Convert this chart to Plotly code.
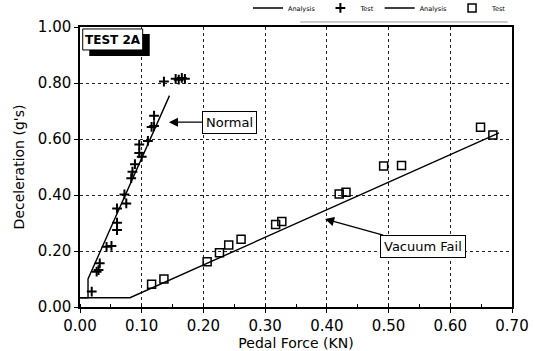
import plotly.graph_objects as go

# Normal (booster working) test data
normal_test_x = [0.019, 0.027, 0.030, 0.032, 0.043, 0.051, 0.060, 0.060, 0.060, 0.075, 0.072,
                 0.083, 0.085, 0.089, 0.100, 0.096, 0.096, 0.110, 0.116, 0.120, 0.120,
                 0.136, 0.155, 0.160, 0.165, 0.170]
normal_test_y = [0.055, 0.126, 0.132, 0.156, 0.215, 0.218, 0.275, 0.301, 0.352, 0.370, 0.402,
                 0.460, 0.483, 0.510, 0.537, 0.550, 0.580, 0.593, 0.643, 0.646, 0.683,
                 0.805, 0.815, 0.812, 0.818, 0.815]
normal_analysis_x = [0.0, 0.013, 0.013, 0.145]
normal_analysis_y = [0.033, 0.033, 0.100, 0.755]

# Vacuum fail test data
vacuum_test_x = [0.116, 0.136, 0.206, 0.226, 0.241, 0.261, 0.317, 0.327, 0.420, 0.431,
                 0.492, 0.521, 0.649, 0.669]
vacuum_test_y = [0.081, 0.100, 0.162, 0.194, 0.221, 0.242, 0.295, 0.305, 0.404, 0.410,
                 0.504, 0.505, 0.642, 0.614]
vacuum_analysis_x = [0.0, 0.081, 0.679]
vacuum_analysis_y = [0.033, 0.033, 0.622]

x_ticks = [0.0, 0.1, 0.2, 0.3, 0.4, 0.5, 0.6, 0.7]
y_ticks = [0.0, 0.2, 0.4, 0.6, 0.8, 1.0]

FONT = "DejaVu Sans"

fig = go.Figure()
fig.add_trace(go.Scatter(x=normal_analysis_x, y=normal_analysis_y, mode="lines",
                         line=dict(color="black", width=1.4), name="Analysis"))
fig.add_trace(go.Scatter(x=normal_test_x, y=normal_test_y, mode="markers", name="Test",
                         marker=dict(symbol="cross-thin-open", size=7, color="black",
                                     line=dict(color="black", width=2))))
fig.add_trace(go.Scatter(x=vacuum_analysis_x, y=vacuum_analysis_y, mode="lines",
                         line=dict(color="black", width=1.4), name="Analysis"))
fig.add_trace(go.Scatter(x=vacuum_test_x, y=vacuum_test_y, mode="markers", name="Test",
                         marker=dict(symbol="square-open", size=8, color="black",
                                     line=dict(color="black", width=1.5))))

# TEST 2A label box with drop shadow
fig.add_shape(type="rect", x0=0.015, x1=0.113, y0=0.896, y1=0.975,
              fillcolor="black", line=dict(width=0), layer="above")
fig.add_shape(type="rect", x0=0.0044, x1=0.1016, y0=0.918, y1=0.993,
              fillcolor="white", line=dict(color="black", width=1), layer="above")
fig.add_annotation(x=0.053, y=0.955, text="<b>TEST 2A</b>", showarrow=False,
                   font=dict(family=FONT, size=12, color="black"))

# Callouts
fig.add_annotation(x=0.144, y=0.66, text="Normal", showarrow=True, ax=61, ay=0,
                   axref="pixel", ayref="pixel", arrowhead=2, arrowsize=1.4, arrowwidth=1.3,
                   arrowcolor="black", bgcolor="white", bordercolor="black", borderwidth=1,
                   borderpad=3, font=dict(family=FONT, size=13, color="black"))
fig.add_annotation(x=0.397, y=0.314, text="Vacuum Fail", showarrow=True, ax=98, ay=27,
                   axref="pixel", ayref="pixel", arrowhead=2, arrowsize=1.4, arrowwidth=1.3,
                   arrowcolor="black", bgcolor="white", bordercolor="black", borderwidth=1,
                   borderpad=3, font=dict(family=FONT, size=13, color="black"))

# faint rule under legend
fig.add_shape(type="line", xref="paper", yref="paper", x0=0.51, x1=0.99, y0=1.018, y1=1.018,
              line=dict(color="#999999", width=1))

fig.update_layout(
    width=535, height=351,
    margin=dict(l=80, r=23, t=27, b=44, autoexpand=False),
    paper_bgcolor="white", plot_bgcolor="white",
    font=dict(family=FONT, color="black"),
    showlegend=True,
    legend=dict(orientation="h", x=1.0, xanchor="right", y=1.068, yanchor="middle",
                font=dict(family=FONT, size=6.5, color="black"),
                itemwidth=30, tracegroupgap=0, bgcolor="rgba(0,0,0,0)"),
)
fig.update_xaxes(range=[0, 0.7], tickvals=x_ticks, tickformat=".2f",
                 showline=True, linecolor="black", linewidth=1.5, mirror=True,
                 showgrid=True, gridcolor="#222222", gridwidth=1, griddash="dot",
                 ticks="outside", ticklen=4, tickcolor="black",
                 minor=dict(dtick=0.05, ticks="inside", ticklen=3, tickcolor="black", showgrid=False),
                 tickfont=dict(family=FONT, size=15), zeroline=False,
                 title=dict(text="Pedal Force (KN)", font=dict(family=FONT, size=14), standoff=6))
fig.update_yaxes(range=[0, 1.0], tickvals=y_ticks, tickformat=".2f",
                 showline=True, linecolor="black", linewidth=1.5, mirror=True,
                 showgrid=True, gridcolor="#222222", gridwidth=1, griddash="dot",
                 ticks="outside", ticklen=4, tickcolor="black",
                 tickfont=dict(family=FONT, size=15), zeroline=False,
                 title=dict(text="Deceleration (g's)", font=dict(family=FONT, size=14), standoff=10))

fig.write_html("out.html")
